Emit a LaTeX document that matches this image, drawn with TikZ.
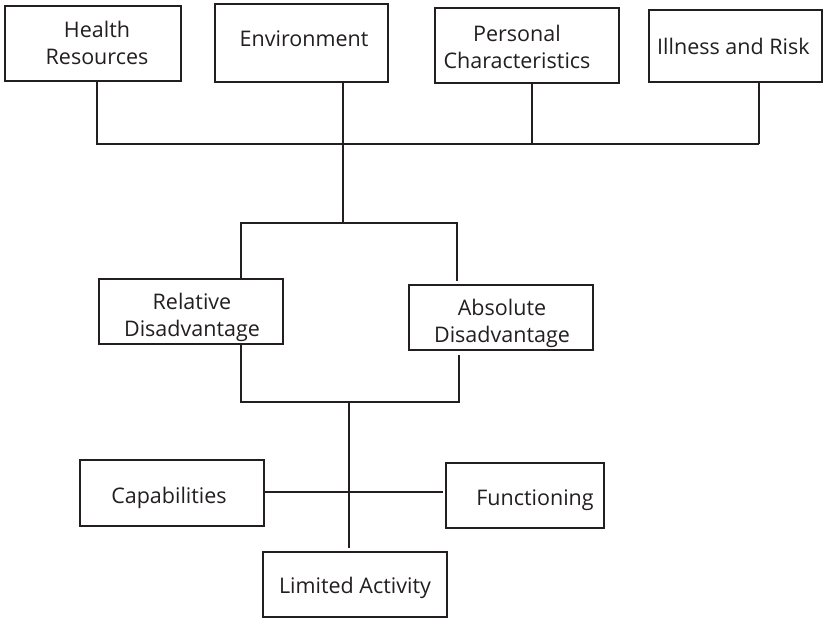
\documentclass[tikz,border=0pt]{standalone}
\usepackage{fontspec}
\setmainfont{Open Sans}
\definecolor{ink}{HTML}{231F20}
\begin{document}
\begin{tikzpicture}[x=1pt,y=-1pt,
  box/.style={draw=ink,line width=2.2pt,rectangle,inner sep=0pt,outer sep=0pt},
  txt/.style={text=ink,font=\fontsize{21.5}{27}\selectfont,align=center,anchor=base,inner sep=0pt},
  wire/.style={draw=ink,line width=2.2pt}]
\useasboundingbox[fill=white] (0,0) rectangle (824,618);
% boxes
\node[box,minimum width=176pt,minimum height=75pt] (hr) at (93,43.5) {};
\node[box,minimum width=173pt,minimum height=78pt] (env) at (301.5,43) {};
\node[box,minimum width=184pt,minimum height=75pt] (pc) at (527,45.5) {};
\node[box,minimum width=173pt,minimum height=72pt] (ir) at (735.5,46) {};
\node[box,minimum width=184pt,minimum height=65pt] (rd) at (191,311.5) {};
\node[box,minimum width=184pt,minimum height=65pt] (ad) at (501,317.5) {};
\node[box,minimum width=184pt,minimum height=66pt] (cap) at (172,493) {};
\node[box,minimum width=158pt,minimum height=65pt] (fun) at (525,495.5) {};
\node[box,minimum width=184pt,minimum height=65pt] (la) at (355,584.5) {};
% texts (base = last line's baseline)
\node[txt] (thr) at (97,64.3) {Health\\Resources};
\node[txt] (tenv) at (304,47) {Environment};
\node[txt] (tpc) at (517,68) {Personal\\Characteristics};
\node[txt,anchor=base west] (tir) at (657,55) {Illness and Risk};
\node[txt] (trd) at (192,336) {Relative\\Disadvantage};
\node[txt] (tad) at (502,342) {Absolute\\Disadvantage};
\node[txt] (tcap) at (169,503) {Capabilities};
\node[txt] (tfun) at (535,505) {Functioning};
\node[txt] (tla) at (355,593) {Limited Activity};
% junction coordinates
\coordinate (barL) at (97,144);
\coordinate (barR) at (759,144);
\coordinate (jenv) at (343,144);
\coordinate (jpc) at (532,144);
\coordinate (top) at (343,223);
\coordinate (brL) at (241,223);
\coordinate (brR) at (457,223);
\coordinate (lowL) at (241,402);
\coordinate (lowR) at (459,402);
\coordinate (mid) at (349,402);
\coordinate (cross) at (349,492);
\coordinate (stem) at (349,548);
\coordinate (funend) at (443,492);
\coordinate (adtop) at (457,281);
\coordinate (adbot) at (459,355);
% top bar
\draw[wire] (hr.south -| barL) -- (barL) -- (barR);
\draw[wire] (ir.south -| barR) -- (barR);
\draw[wire] (pc.south -| jpc) -- (jpc);
\draw[wire] (env.south -| jenv) -- (top);
% upper bracket
\draw[wire] (rd.north -| brL) -- (brL) -- (brR) -- (adtop);
% lower bracket
\draw[wire] (rd.south -| lowL) -- (lowL) -- (lowR) -- (adbot);
\draw[wire] (mid) -- (stem);
\draw[wire] (cap.east |- cross) -- (funend);
\end{tikzpicture}
\end{document}
